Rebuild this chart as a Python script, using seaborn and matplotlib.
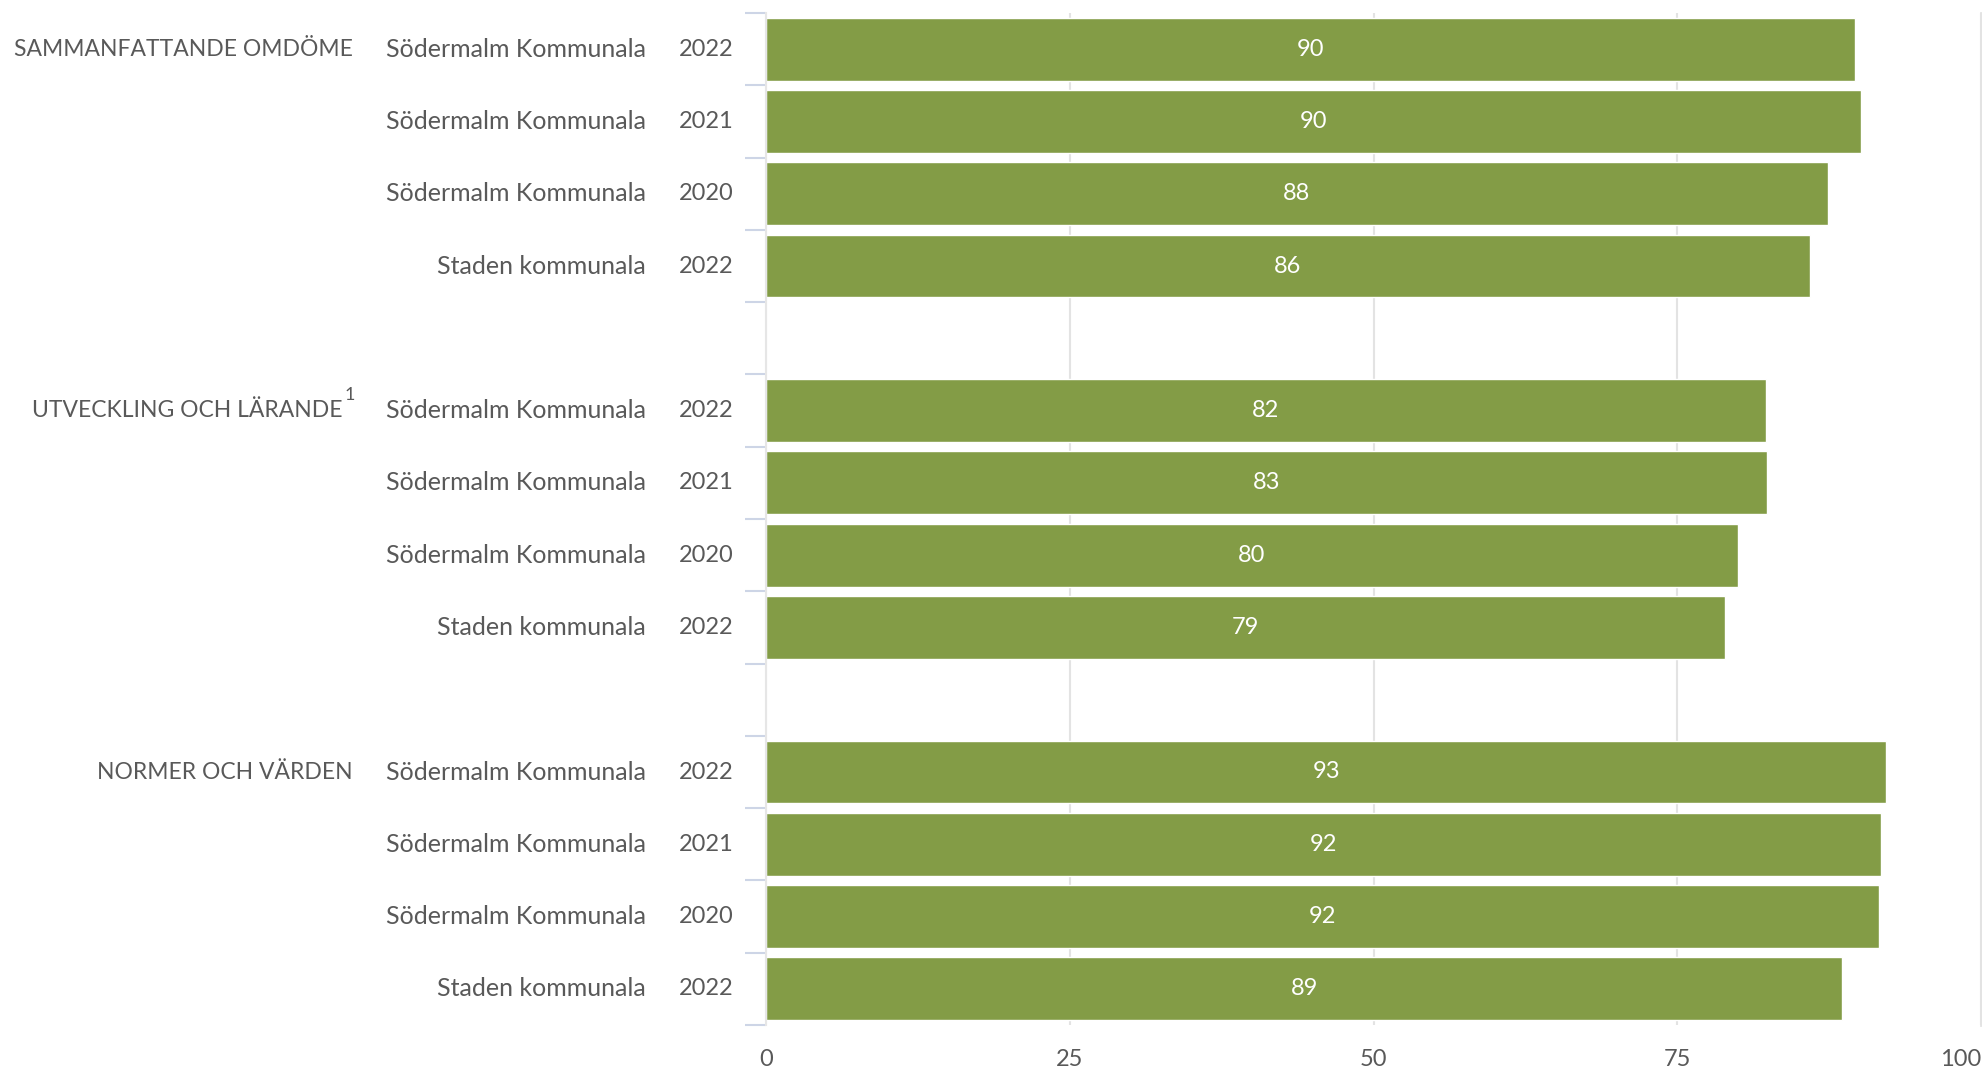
import matplotlib
matplotlib.use("Agg")
import matplotlib.pyplot as plt
import matplotlib.transforms as mtransforms
import pandas as pd
import seaborn as sns

# Data
groups = ["SAMMANFATTANDE OMDÖME", "UTVECKLING OCH LÄRANDE", "NORMER OCH VÄRDEN"]
units = ["Södermalm Kommunala", "Södermalm Kommunala", "Södermalm Kommunala", "Staden kommunala"]
years = ["2022", "2021", "2020", "2022"]
values_sammanfattande = [89.6, 90.1, 87.4, 85.9]
values_utveckling = [82.3, 82.4, 80.0, 78.9]
values_normer = [92.2, 91.8, 91.6, 88.6]
value_labels_sammanfattande = ["90", "90", "88", "86"]
value_labels_utveckling = ["82", "83", "80", "79"]
value_labels_normer = ["93", "92", "92", "89"]
x_ticks = [0, 25, 50, 75, 100]

all_values = [values_sammanfattande, values_utveckling, values_normer]
all_labels = [value_labels_sammanfattande, value_labels_utveckling, value_labels_normer]

rows = []
order = []
for gi, g in enumerate(groups):
    for ri in range(len(units)):
        slot = f"{gi}-{ri}"
        order.append(slot)
        rows.append({"slot": slot, "group": g, "unit": units[ri], "year": years[ri],
                     "value": all_values[gi][ri], "label": all_labels[gi][ri]})
    if gi < len(groups) - 1:
        order.append(f"gap{gi}")
df = pd.DataFrame(rows)

sns.set_theme(style="white")
plt.rcParams["font.family"] = ["Lato", "DejaVu Sans"]

BAR = "#839c46"
TEXT = "#595959"

fig = plt.figure(figsize=(19.83, 10.70), dpi=100)
ax = fig.add_axes([766 / 1983, 1 - 1025 / 1070, 1215 / 1983, (1025 - 13) / 1070])

sns.barplot(data=df, y="slot", x="value", order=order, orient="h", color=BAR,
            saturation=1, width=0.87, ax=ax, errorbar=None)

ax.set_xlim(0, 100)
ax.set_ylim(len(order) - 0.5, -0.5)
ax.set_xlabel("")
ax.set_ylabel("")

# value labels inside bars
for cont in ax.containers:
    ax.bar_label(cont, labels=list(df["label"]), label_type="center",
                 color="white", fontsize=17)

# grid
ax.set_xticks(x_ticks)
ax.set_xticklabels([str(t) for t in x_ticks])
ax.get_xticklabels()[-1].set_horizontalalignment("right")
ax.xaxis.grid(True, color="#e3e3e3", linewidth=1.5)
ax.set_axisbelow(True)
ax.tick_params(axis="x", length=3, color="#dddddd", pad=14, labelsize=17, labelcolor=TEXT)

ax.set_yticks([i - 0.5 for i in range(len(order) + 1)])
ax.set_yticklabels([])
ax.tick_params(axis="y", length=15, width=1.5, color="#cdd5e6", left=True)

for side in ["top", "bottom"]:
    ax.spines[side].set_visible(False)
ax.spines["left"].set_color("#e6e6e6")
ax.spines["left"].set_linewidth(1.5)
ax.spines["right"].set_color("#e3e3e3")
ax.spines["right"].set_linewidth(2)

# row labels
trans = mtransforms.blended_transform_factory(fig.transFigure, ax.transData)
for _, r in df.iterrows():
    y = order.index(r["slot"])
    ax.text(646 / 1983, y, r["unit"], transform=trans, ha="right", va="center",
            fontsize=18, color=TEXT)
    ax.text(734 / 1983, y, r["year"], transform=trans, ha="right", va="center",
            fontsize=17, color=TEXT)

for gi, g in enumerate(groups):
    y = order.index(f"{gi}-0")
    if gi == 1:
        ax.text(343 / 1983, y, g, transform=trans, ha="right", va="center",
                fontsize=16.5, color=TEXT)
        ax.text(345 / 1983, y - 0.22, "1", transform=trans, ha="left", va="center",
                fontsize=13, color=TEXT)
    else:
        ax.text(353 / 1983, y, g, transform=trans, ha="right", va="center",
                fontsize=16.5, color=TEXT)

fig.savefig("out.png", dpi=100)
